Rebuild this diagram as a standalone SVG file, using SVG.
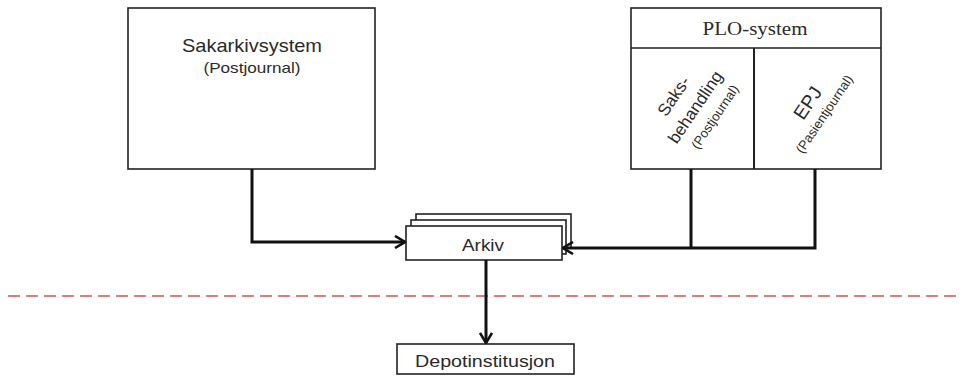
<svg xmlns="http://www.w3.org/2000/svg" width="960" height="376" viewBox="0 0 960 376">
<style>
.box{fill:#fff;stroke:#222;stroke-width:1.6}
.t{font-family:"Liberation Sans",Arial,sans-serif;fill:#2a2a2a;text-anchor:middle}
.serif{font-family:"Liberation Serif","Times New Roman",serif;fill:#2a2a2a;text-anchor:middle}
.conn{fill:none;stroke:#111;stroke-width:3;stroke-linejoin:miter}
</style>
<defs>
<marker id="arr" viewBox="0 0 12 14" refX="11" refY="7" markerWidth="12" markerHeight="14" markerUnits="userSpaceOnUse" orient="auto">
<path d="M1,1 L11,7 L1,13" fill="none" stroke="#111" stroke-width="2.6"/>
</marker>
</defs>
<rect width="960" height="376" fill="#fff"/>
<line x1="8" y1="296" x2="960" y2="296" stroke="#d9534f" stroke-width="1.6" stroke-dasharray="12 6"/>
<g id="sakarkivsystem">
<rect class="box" x="128" y="8" width="247" height="161"/>
<text class="t" x="252" y="52" font-size="18.5" textLength="140" lengthAdjust="spacingAndGlyphs">Sakarkivsystem</text>
<text class="t" x="252" y="73" font-size="15" textLength="97" lengthAdjust="spacingAndGlyphs">(Postjournal)</text>
</g>
<g id="plo-system">
<rect class="box" x="631" y="8" width="250" height="161"/>
<line x1="631" y1="48" x2="881" y2="48" stroke="#222" stroke-width="1.6"/>
<text class="serif" x="755" y="35" font-size="18.5" textLength="105" lengthAdjust="spacingAndGlyphs">PLO-system</text>
</g>
<g id="saksbehandling">
<line x1="754" y1="48" x2="754" y2="169" stroke="#222" stroke-width="2"/>
<g transform="translate(695,107) rotate(-56)">
<text class="t" x="-3" y="-18" font-size="17">Saks-</text>
<text class="t" x="0" y="6" font-size="17">behandling</text>
<text class="t" x="3" y="26.5" font-size="13">(Postjournal)</text>
</g>
</g>
<g id="epj">
<g transform="translate(816,108.5) rotate(-56)">
<text class="t" x="0" y="-3.5" font-size="19">EPJ</text>
<text class="t" x="0" y="14.5" font-size="13">(Pasientjournal)</text>
</g>
</g>
<g id="arkiv">
<rect class="box" x="416" y="214" width="155" height="34"/>
<rect class="box" x="411" y="220" width="155" height="34"/>
<rect class="box" x="406" y="226" width="156" height="34"/>
<text class="t" x="483" y="251" font-size="17" textLength="42" lengthAdjust="spacingAndGlyphs">Arkiv</text>
</g>
<g id="depotinstitusjon">
<rect class="box" x="397" y="344" width="177" height="30"/>
<text class="t" x="485" y="367" font-size="17" textLength="140" lengthAdjust="spacingAndGlyphs">Depotinstitusjon</text>
</g>
<g id="connectors">
<path class="conn" d="M252,169 V242 H405" marker-end="url(#arr)"/>
<path class="conn" d="M815,169 V248 H563" marker-end="url(#arr)"/>
<path class="conn" d="M691,169 V248"/>
<path class="conn" d="M486,260 V343" marker-end="url(#arr)"/>
</g>
</svg>
